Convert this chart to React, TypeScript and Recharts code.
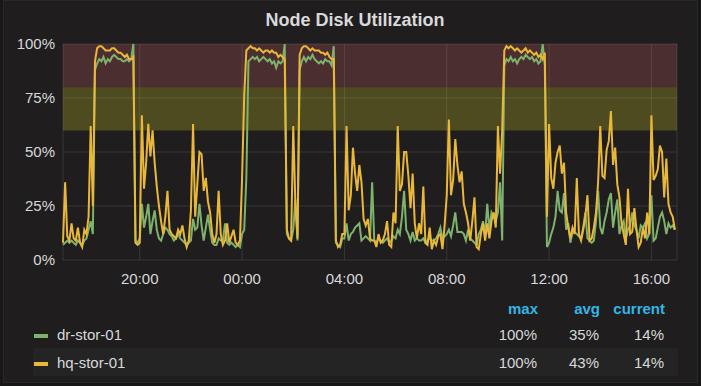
import React from 'react';
import { LineChart, Line, XAxis, YAxis, CartesianGrid, ReferenceArea } from 'recharts';

// 5-minute samples from 17:00 to 16:55 (one row per hour)
const hqStor01 = [
  8, 36, 11, 9, 17, 10, 9, 15, 8, 6, 14, 12,
  20, 62, 25, 92, 98, 99, 99, 98, 97, 97, 97, 98,
  98, 97, 96, 96, 95, 94, 95, 93, 93, 94, 8, 7,
  8, 67, 33, 45, 63, 48, 60, 45, 34, 25, 18, 12,
  20, 32, 14, 12, 11, 10, 14, 12, 16, 10, 6, 9,
  23, 63, 20, 35, 50, 49, 32, 38, 27, 22, 12, 8,
  12, 32, 12, 7, 9, 17, 8, 11, 14, 8, 7, 9,
  38, 76, 97, 98, 99, 98, 98, 97, 98, 97, 96, 97,
  97, 96, 97, 96, 96, 94, 95, 94, 93, 14, 10, 9,
  62, 26, 10, 95, 98, 99, 99, 98, 97, 98, 97, 97,
  97, 96, 96, 95, 96, 94, 93, 93, 9, 6, 7, 12,
  12, 62, 23, 30, 52, 40, 32, 44, 36, 19, 16, 19,
  10, 9, 9, 6, 12, 8, 9, 12, 18, 7, 6, 22,
  17, 62, 32, 35, 50, 50, 39, 24, 40, 17, 10, 17,
  12, 34, 8, 7, 15, 5, 9, 7, 11, 12, 5, 16,
  30, 65, 30, 37, 56, 44, 36, 41, 26, 22, 17, 9,
  18, 29, 6, 5, 12, 17, 9, 17, 10, 18, 22, 15,
  62, 40, 60, 97, 99, 98, 99, 98, 97, 98, 97, 96,
  97, 98, 96, 97, 96, 95, 96, 94, 95, 93, 96, 20,
  63, 38, 33, 45, 50, 53, 40, 45, 22, 15, 10, 15,
  12, 38, 12, 9, 14, 20, 30, 9, 10, 15, 22, 36,
  62, 39, 38, 51, 55, 69, 44, 52, 35, 29, 17, 12,
  7, 33, 12, 13, 24, 14, 6, 8, 15, 10, 22, 12,
  67, 37, 39, 42, 53, 50, 29, 47, 26, 22, 20, 14,
];

const drStor01 = [
  7, 8, 9, 8, 9, 8, 7, 9, 8, 7, 9, 10,
  14, 18, 12, 88, 91, 93, 92, 94, 91, 93, 92, 94,
  95, 94, 93, 93, 92, 92, 93, 92, 93, 100, 9, 8,
  10, 26, 15, 20, 26, 12, 18, 23, 14, 10, 9, 12,
  15, 14, 12, 11, 9, 10, 12, 10, 9, 8, 7, 8,
  9, 19, 14, 15, 26, 16, 9, 15, 21, 14, 8, 7,
  7, 10, 9, 9, 17, 8, 7, 8, 7, 6, 7, 6,
  12, 14, 38, 92, 93, 94, 93, 94, 92, 93, 94, 93,
  92, 93, 91, 92, 89, 92, 91, 92, 100, 12, 10, 9,
  14, 28, 9, 88, 92, 94, 92, 94, 93, 95, 93, 92,
  91, 92, 91, 93, 92, 92, 90, 99, 8, 7, 6, 10,
  10, 17, 9, 12, 13, 15, 16, 17, 9, 10, 11, 10,
  9, 36, 9, 8, 10, 9, 8, 9, 10, 8, 9, 11,
  10, 14, 12, 20, 32, 14, 12, 9, 13, 9, 10, 9,
  9, 10, 8, 9, 10, 9, 9, 10, 12, 15, 10, 11,
  12, 14, 11, 16, 22, 13, 13, 13, 12, 9, 14, 10,
  9, 8, 7, 12, 14, 18, 12, 26, 14, 22, 20, 18,
  22, 36, 9, 90, 93, 92, 94, 92, 93, 91, 93, 94,
  93, 95, 94, 93, 94, 92, 93, 91, 92, 100, 90, 6,
  8, 12, 15, 20, 32, 23, 22, 31, 14, 17, 8, 13,
  13, 12, 11, 10, 15, 22, 10, 9, 8, 9, 18, 32,
  15, 12, 18, 22, 28, 31, 15, 22, 28, 12, 16, 18,
  10, 14, 16, 22, 16, 14, 10, 16, 15, 17, 10, 12,
  30, 9, 10, 15, 20, 22, 18, 12, 17, 15, 16, 14,
];

const xTickIndex = [36, 84, 132, 180, 228, 276];
const xTickLabels = ['20:00', '00:00', '04:00', '08:00', '12:00', '16:00'];
const yTicks = [0, 25, 50, 75, 100];

const seriesNames = ['dr-stor-01', 'hq-stor-01'];
const legendHeaders = ['max', 'avg', 'current'];
const legendMax = ['100%', '100%'];
const legendAvg = ['35%', '43%'];
const legendCurrent = ['14%', '14%'];

const thresholdWarning = [60, 80];
const thresholdCritical = [80, 100];

const data = hqStor01.map((v, i) => ({ t: i, hq: v, dr: drStor01[i] }));

const FONT = '"Helvetica Neue", Helvetica, "Liberation Sans", Arial, sans-serif';
const TEXT = '#d8d9da';
const GREEN = '#7eb26d';
const YELLOW = '#eab839';

export default function App() {
  const colRight = [538, 600, 665];
  const rowBase = [340, 368];
  const seriesColors = [GREEN, YELLOW];
  const rowValues = [legendMax, legendAvg, legendCurrent];
  return (
    <div style={{ position: 'fixed', left: 0, top: 0, width: 701, height: 386, background: '#171717', overflow: 'hidden' }}>
      <div style={{ position: 'absolute', left: 3, top: 0, width: 693, height: 381, background: '#1f1d1e', border: '1px solid #282828' }} />
      <div style={{ position: 'absolute', left: 0, top: 0 }}>
        <LineChart width={701} height={300} data={data} margin={{ top: 44, right: 24, bottom: 10, left: 0 }}>
          <ReferenceArea y1={thresholdCritical[0]} y2={thresholdCritical[1]} fill="rgba(234,112,112,0.22)" fillOpacity={1} stroke="none" />
          <ReferenceArea y1={thresholdWarning[0]} y2={thresholdWarning[1]} fill="rgba(230,220,40,0.24)" fillOpacity={1} stroke="none" />
          <CartesianGrid stroke="rgba(255,255,255,0.11)" strokeWidth={1} />
          <XAxis
            dataKey="t"
            type="number"
            domain={[0, 288]}
            ticks={xTickIndex}
            tickFormatter={(v: number) => xTickLabels[xTickIndex.indexOf(v)] ?? ''}
            axisLine={false}
            tickLine={false}
            tickMargin={7}
            height={30}
            tick={{ fill: TEXT, fontSize: 15, fontFamily: FONT }}
          />
          <YAxis
            type="number"
            domain={[0, 100]}
            ticks={yTicks}
            tickFormatter={(v: number) => `${v}%`}
            axisLine={false}
            tickLine={false}
            width={63}
            tick={{ fill: TEXT, fontSize: 15, fontFamily: FONT }}
          />
          <Line type="linear" dataKey="dr" name={seriesNames[0]} stroke={GREEN} strokeWidth={2} dot={false} isAnimationActive={false} />
          <Line type="linear" dataKey="hq" name={seriesNames[1]} stroke={YELLOW} strokeWidth={2} dot={false} isAnimationActive={false} />
        </LineChart>
      </div>
      <svg width={701} height={386} style={{ position: 'absolute', left: 0, top: 0, pointerEvents: 'none' }}>
        <text x={355} y={26} textAnchor="middle" fontFamily={FONT} fontSize={18} fontWeight="bold" fill={TEXT}>
          Node Disk Utilization
        </text>
        {legendHeaders.map((h, i) => (
          <text key={h} x={colRight[i]} y={314} textAnchor="end" fontFamily={FONT} fontSize={15} fontWeight="bold" fill="#33b5e5">
            {h}
          </text>
        ))}
        <rect x={33} y={348} width={645} height={28} fill="#252425" />
        {seriesNames.map((name, r) => (
          <g key={name}>
            <rect x={34} y={rowBase[r] - 6} width={14} height={4} fill={seriesColors[r]} />
            <text x={57} y={rowBase[r]} fontFamily={FONT} fontSize={15} fill={TEXT}>
              {name}
            </text>
            {rowValues.map((col, c) => (
              <text key={c} x={colRight[c] - 1} y={rowBase[r]} textAnchor="end" fontFamily={FONT} fontSize={15} fill={TEXT}>
                {col[r]}
              </text>
            ))}
          </g>
        ))}
      </svg>
    </div>
  );
}
